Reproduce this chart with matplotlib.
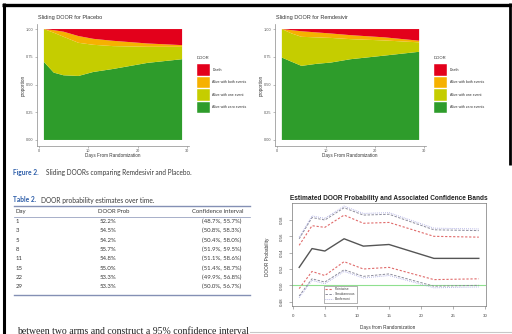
import matplotlib
matplotlib.use("Agg")
import matplotlib.pyplot as plt
from matplotlib.patches import Rectangle

W, H = 512, 334

# sliding DOOR proportions
days = [1, 3, 5, 8, 11, 15, 22, 29]
door_labels = ["Alive with zero events", "Alive with one event", "Alive with both events", "Death"]
door_colors = ["#2e9c2b", "#c5cd00", "#f6b100", "#e3001b"]

pla_zero = [0.704, 0.607, 0.583, 0.577, 0.613, 0.640, 0.695, 0.728]
pla_one = [0.296, 0.360, 0.347, 0.299, 0.245, 0.206, 0.145, 0.112]
pla_both = [0.000, 0.023, 0.046, 0.061, 0.054, 0.048, 0.030, 0.015]
pla_death = [0.000, 0.010, 0.024, 0.063, 0.088, 0.106, 0.130, 0.145]

rem_zero = [0.743, 0.705, 0.668, 0.686, 0.698, 0.728, 0.761, 0.795]
rem_one = [0.257, 0.255, 0.262, 0.239, 0.222, 0.181, 0.136, 0.085]
rem_both = [0.000, 0.030, 0.050, 0.045, 0.040, 0.036, 0.028, 0.015]
rem_death = [0.000, 0.010, 0.020, 0.030, 0.040, 0.055, 0.075, 0.105]

# DOOR probability and bands
est = [0.522, 0.545, 0.542, 0.557, 0.548, 0.550, 0.533, 0.533]
pw_lo = [0.496, 0.517, 0.512, 0.529, 0.520, 0.522, 0.507, 0.508]
pw_hi = [0.549, 0.573, 0.571, 0.586, 0.576, 0.577, 0.560, 0.559]
sim_lo = [0.487, 0.508, 0.504, 0.519, 0.511, 0.514, 0.499, 0.500]
sim_hi = [0.557, 0.583, 0.580, 0.595, 0.586, 0.587, 0.568, 0.567]
bon_lo = [0.485, 0.506, 0.502, 0.517, 0.509, 0.512, 0.497, 0.498]
bon_hi = [0.559, 0.585, 0.582, 0.597, 0.588, 0.589, 0.570, 0.569]

# table 2
tab_day = ["1", "3", "5", "8", "11", "15", "22", "29"]
tab_prob = ["52.2%", "54.5%", "54.2%", "55.7%", "54.8%", "55.0%", "53.3%", "53.3%"]
tab_ci = ["(48.7%, 55.7%)", "(50.8%, 58.3%)", "(50.4%, 58.0%)", "(51.9%, 59.5%)",
          "(51.1%, 58.6%)", "(51.4%, 58.7%)", "(49.9%, 56.8%)", "(50.0%, 56.7%)"]


def rect(x0, y0, x1, y1):
    return [x0 / W, 1 - y1 / H, (x1 - x0) / W, (y1 - y0) / H]


fig = plt.figure(figsize=(W / 100, H / 100), dpi=100)
fig.patch.set_facecolor("white")

# page layer in pixel coordinates
bg = fig.add_axes([0, 0, 1, 1], zorder=0)
bg.set_xlim(0, W)
bg.set_ylim(H, 0)
bg.axis("off")

bg.plot([2, W], [4.5, 4.5], color="black", lw=2.4, solid_capstyle="butt")
bg.plot([3.5, 3.5], [3, H], color="black", lw=2.2, solid_capstyle="butt")
bg.plot([509.5, 509.5], [3, 165], color="black", lw=2.0, solid_capstyle="butt")
bg.plot([250, W], [331.5, 331.5], color="#c8c8c8", lw=0.8)

gg = "Liberation Sans"
sans = "Lato"
blue = "#2b5ca8"
txt = "#3a3a3a"


def door_panel(px0, px1, title, zero, one, both, death, xlab_c, ylab_x, leg_x):
    ax = fig.add_axes(rect(px0, 23.5, px1, 145.5), zorder=2)
    ax.stackplot(days, zero, one, both, death, colors=door_colors, lw=0)
    ax.set_xlim(-0.4, 30.4)
    ax.set_ylim(-0.05, 1.05)
    ax.set_xticks([0, 10, 20, 30])
    ax.set_yticks([0, 0.25, 0.5, 0.75, 1.0])
    ax.set_yticklabels(["0.00", "0.25", "0.50", "0.75", "1.00"])
    for s in ["top", "right"]:
        ax.spines[s].set_visible(False)
    for s in ["left", "bottom"]:
        ax.spines[s].set_color("#8a8a8a")
        ax.spines[s].set_linewidth(0.5)
    ax.tick_params(length=1.5, width=0.4, pad=1.2, labelsize=2.8,
                   colors="#8a8a8a", labelcolor="#555555")
    for lab in ax.get_xticklabels() + ax.get_yticklabels():
        lab.set_family(gg)
    bg.text(px0 + 1, 17, title, fontsize=4.0, family=gg, color="#333333", va="center")
    bg.text(xlab_c, 155.5, "Days From Randomization", fontsize=3.3, family=gg,
            color="#333333", ha="center", va="center")
    bg.text(ylab_x, 85, "proportion", fontsize=3.3, family=gg, color="#333333",
            rotation=90, ha="center", va="center")
    # legend
    bg.text(leg_x, 58, "DOOR", fontsize=3.0, family=gg, color="#333333", va="center")
    keys = [(64, 75.5), (76.5, 88), (89, 100.5), (101.5, 113)]
    for i, (k0, k1) in enumerate(keys):
        j = 3 - i
        bg.add_patch(Rectangle((leg_x + 0.5, k0), 13, k1 - k0, facecolor=door_colors[j],
                               edgecolor="white", lw=0.3))
        bg.text(leg_x + 16, (k0 + k1) / 2, door_labels[j], fontsize=2.5, family=gg,
                color="#333333", va="center")
    return ax


door_panel(37, 189, "Sliding DOOR for Placebo", pla_zero, pla_one, pla_both, pla_death,
           113, 23, 196.5)
door_panel(275, 426, "Sliding DOOR for Remdesivir", rem_zero, rem_one, rem_both, rem_death,
           350, 261, 433.5)

# caption
bg.text(13, 173, "Figure 2.", fontsize=4.8, family=sans, weight="bold", color=blue, va="center")
bg.text(46, 173, "Sliding DOORs comparing Remdesivir and Placebo.", fontsize=4.7,
        family=sans, color=txt, va="center")

# table
bg.text(13, 200, "Table 2.", fontsize=4.8, family=sans, weight="bold", color=blue, va="center")
bg.text(41, 200, "DOOR probability estimates over time.", fontsize=4.8, family=sans,
        color=txt, va="center")
rule = "#8490b4"
bg.plot([14, 250], [205.8, 205.8], color=rule, lw=1.0)
bg.plot([14, 250], [217.3, 217.3], color=rule, lw=0.5)
bg.plot([14, 250], [295.0, 295.0], color=rule, lw=1.0)
bg.text(16, 211.7, "Day", fontsize=4.3, family=sans, color=txt, va="center")
bg.text(98, 211.7, "DOOR Prob", fontsize=4.3, family=sans, color=txt, va="center")
bg.text(244, 211.7, "Confidence interval", fontsize=4.3, family=sans, color=txt,
        va="center", ha="right")
for i in range(len(tab_day)):
    yy = 221.3 + i * 9.35
    bg.text(16, yy, tab_day[i], fontsize=4.3, family=sans, color=txt, va="center")
    bg.text(100, yy, tab_prob[i], fontsize=4.3, family=sans, color=txt, va="center")
    bg.text(241, yy, tab_ci[i], fontsize=4.3, family=sans, color=txt, va="center", ha="right")

bg.text(17, 333.5, "between two arms and construct a 95% confidence interval",
        fontsize=7.0, family="Liberation Serif", color="#222222", va="baseline")

# DOOR probability plot
ax3 = fig.add_axes(rect(292, 203, 486, 306), zorder=2)
ax3.axhline(0.5, color="#8fe08f", lw=0.8)
ax3.plot(days, est, color="#555555", lw=1.0)
l1, = ax3.plot(days, pw_lo, color="#e06a6a", lw=0.8, ls=(0, (2, 1.6)), label="Pointwise")
ax3.plot(days, pw_hi, color="#e06a6a", lw=0.8, ls=(0, (2, 1.6)))
l2, = ax3.plot(days, sim_lo, color="#8c8c9c", lw=0.7, ls=(0, (2.5, 1.5)), label="Simultaneous")
ax3.plot(days, sim_hi, color="#8c8c9c", lw=0.7, ls=(0, (2.5, 1.5)))
l3, = ax3.plot(days, bon_lo, color="#a8a8e0", lw=0.7, ls=(0, (0.8, 1.2)), label="Bonferroni")
ax3.plot(days, bon_hi, color="#a8a8e0", lw=0.7, ls=(0, (0.8, 1.2)))
ax3.set_xlim(-0.12, 30.12)
ax3.set_ylim(0.4747, 0.6008)
ax3.set_xticks([0, 5, 10, 15, 20, 25, 30])
ax3.set_yticks([0.48, 0.50, 0.52, 0.54, 0.56, 0.58])
ax3.set_yticklabels(["0.48", "0.50", "0.52", "0.54", "0.56", "0.58"], rotation=90, va="center")
for s in ax3.spines.values():
    s.set_color("#777777")
    s.set_linewidth(0.5)
ax3.tick_params(length=2, width=0.4, pad=4, labelsize=3.2, colors="#777777",
                labelcolor="#444444")
for lab in ax3.get_xticklabels() + ax3.get_yticklabels():
    lab.set_family(gg)
ax3.set_title("Estimated DOOR Probability and Associated Confidence Bands", fontsize=4.7,
              family=gg, weight="bold", color="#222222", pad=2.5)
bg.text(388, 328, "Days from Randomization", fontsize=3.4, family=gg, color="#333333",
        ha="center", va="center")
bg.text(268, 257, "DOOR Probability", fontsize=3.4, family=gg, color="#333333",
        rotation=90, ha="center", va="center")
leg = ax3.legend(handles=[l1, l2, l3], loc="upper left", bbox_to_anchor=(324 / W, 1 - 286 / H),
                 bbox_transform=fig.transFigure, fontsize=2.4, handlelength=2.4,
                 handletextpad=0.5, borderpad=0.4, labelspacing=0.3, fancybox=False,
                 framealpha=1, edgecolor="#777777", borderaxespad=0)
leg.get_frame().set_linewidth(0.4)
for t in leg.get_texts():
    t.set_family(gg)
    t.set_color("#444444")

fig.savefig("out.png", dpi=100)
